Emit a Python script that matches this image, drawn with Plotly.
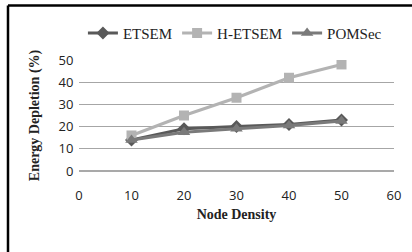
import plotly.graph_objects as go

node_density = [10, 20, 30, 40, 50]
etsem = [14, 19, 20, 21, 23]
h_etsem = [16, 25, 33, 42, 48]
pomsec = [14, 17.5, 19, 20.5, 22.5]
x_ticks = [0, 10, 20, 30, 40, 50, 60]
y_ticks = [0, 10, 20, 30, 40, 50]

fig = go.Figure()
fig.add_trace(go.Scatter(x=node_density, y=etsem, name="ETSEM", mode="lines+markers",
                         line=dict(color="#595959", width=3),
                         marker=dict(symbol="diamond", size=10, color="#595959")))
fig.add_trace(go.Scatter(x=node_density, y=h_etsem, name="H-ETSEM", mode="lines+markers",
                         line=dict(color="#b3b3b3", width=3),
                         marker=dict(symbol="square", size=10, color="#b3b3b3")))
fig.add_trace(go.Scatter(x=node_density, y=pomsec, name="POMSec", mode="lines+markers",
                         line=dict(color="#7a7a7a", width=3),
                         marker=dict(symbol="triangle-up", size=11, color="#7a7a7a")))

fig.update_layout(
    width=412, height=252,
    margin=dict(l=79, r=18, t=60, b=81, autoexpand=False),
    paper_bgcolor="white", plot_bgcolor="white",
    showlegend=True,
    legend=dict(orientation="h", x=0.495, xanchor="center", y=1.24, yanchor="middle",
                font=dict(family="Liberation Serif", size=15, color="#222"),
                itemwidth=30, tracegroupgap=0, bgcolor="rgba(0,0,0,0)"),
    xaxis=dict(range=[0, 60], tickvals=x_ticks, showgrid=False, zeroline=False,
               showline=False, ticks="outside", ticklen=12, tickcolor="rgba(0,0,0,0)",
               automargin=False,
               tickfont=dict(family="Open Sans", size=13, color="#222"),
               title=dict(text="<b>Node Density</b>", standoff=6,
                          font=dict(family="Liberation Serif", size=14, color="#222"))),
    yaxis=dict(range=[0, 50], tickvals=y_ticks, showgrid=True, gridcolor="#a6a6a6",
               gridwidth=1, zeroline=False, showline=False, ticks="outside", ticklen=2,
               tickcolor="rgba(0,0,0,0)", automargin=False,
               tickfont=dict(family="Open Sans", size=13, color="#222"),
               title=dict(text="<b>Energy Depletion (%)</b>", standoff=15,
                          font=dict(family="Liberation Serif", size=14, color="#222"))),
    shapes=[
        dict(type="line", xref="paper", yref="paper", x0=0, x1=1, y0=0, y1=0,
             line=dict(color="#8c8c8c", width=1.5)),
        dict(type="line", xref="paper", yref="paper", x0=-0.2254, x1=-0.2254, y0=-1, y1=1.491,
             line=dict(color="black", width=2.5)),
        dict(type="line", xref="paper", yref="paper", x0=-0.2254, x1=1.1, y0=1.491, y1=1.491,
             line=dict(color="black", width=2.5)),
    ],
)

fig.write_html("out.html", config={"displayModeBar": False},
               post_script="document.body.style.margin='0px';")
